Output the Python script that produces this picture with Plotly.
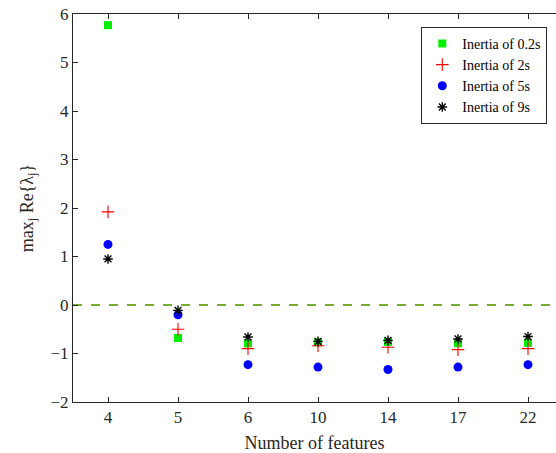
import plotly.graph_objects as go

features = ["4", "5", "6", "10", "14", "17", "22"]
inertia_02 = [5.77, -0.68, -0.79, -0.77, -0.76, -0.79, -0.78]
inertia_2 = [1.92, -0.50, -0.90, -0.84, -0.87, -0.92, -0.90]
inertia_5 = [1.25, -0.20, -1.23, -1.28, -1.33, -1.28, -1.23]
inertia_9 = [0.95, -0.11, -0.66, -0.75, -0.73, -0.70, -0.65]
names = ["Inertia of 0.2s", "Inertia of 2s", "Inertia of 5s", "Inertia of 9s"]
threshold = 0

font = "'Liberation Serif', 'Times New Roman', serif"
fig = go.Figure()
fig.add_trace(go.Scatter(x=features, y=inertia_02, mode="markers", name=names[0],
                         marker=dict(symbol="square", size=8, color="#00ee00")))
fig.add_trace(go.Scatter(x=features, y=inertia_2, mode="markers", name=names[1],
                         marker=dict(symbol="cross-thin-open", size=9,
                                     line=dict(color="#ff0000", width=1.1), color="#ff0000")))
fig.add_trace(go.Scatter(x=features, y=inertia_5, mode="markers", name=names[2],
                         marker=dict(symbol="circle", size=9, color="#0000ff")))
fig.add_trace(go.Scatter(x=features, y=inertia_9, mode="markers", name=names[3],
                         marker=dict(symbol="asterisk-open", size=8,
                                     line=dict(color="#000000", width=1.4), color="#000000")))

fig.add_shape(type="line", xref="paper", yref="y", x0=0, x1=1, y0=threshold, y1=threshold,
              line=dict(color="#77ac30", width=2, dash="dash"), layer="below")

axis_color = "#262626"
fig.update_layout(
    width=556, height=453,
    margin=dict(l=73, r=0, t=14, b=51),
    paper_bgcolor="white", plot_bgcolor="white",
    font=dict(family=font, size=17, color=axis_color),
    showlegend=True,
    legend=dict(x=0.982, y=0.967, xanchor="right", yanchor="top",
                bordercolor=axis_color, borderwidth=1, bgcolor="white",
                font=dict(family=font, size=14, color="#000000"),
                tracegroupgap=0, itemwidth=30),
    xaxis=dict(type="category", range=[-0.5, 6.4], showgrid=False, zeroline=False,
               showline=True, linecolor=axis_color, linewidth=1,
               mirror="ticks", ticks="inside", ticklen=5, tickcolor=axis_color,
               title=dict(text="Number of features", font=dict(family=font, size=18), standoff=12),
               tickfont=dict(family=font, size=17)),
    yaxis=dict(range=[-2, 6], dtick=1, showgrid=False, zeroline=False,
               showline=True, linecolor=axis_color, linewidth=1,
               ticks="inside", ticklen=5, tickcolor=axis_color,
               title=dict(text="max<sub>j</sub> Re{λ<sub>j</sub>}", font=dict(family=font, size=18), standoff=12),
               tickfont=dict(family=font, size=17)),
)

fig.write_html("out.html")
